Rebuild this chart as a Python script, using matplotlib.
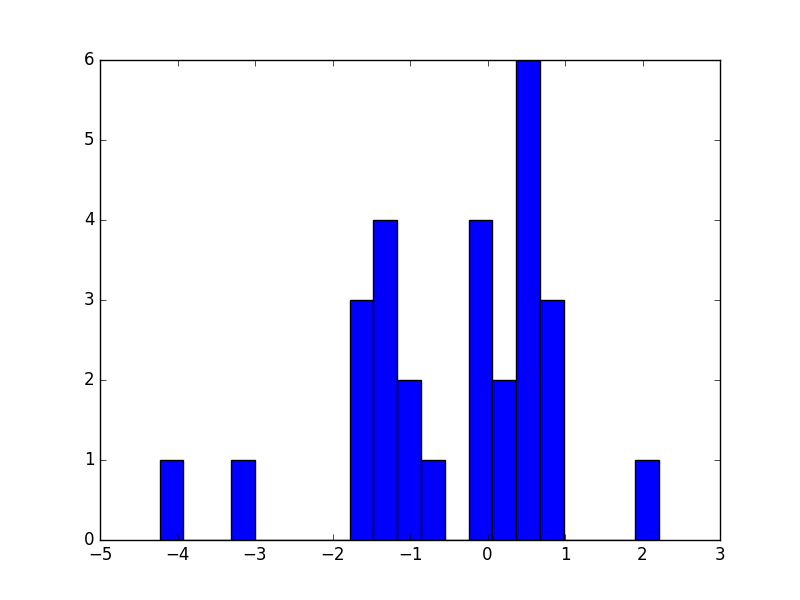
import matplotlib
matplotlib.use('Agg')
import matplotlib.pyplot as plt

# bin edges (21 bins) and counts
bin_edges = [-4.230, -3.923, -3.617, -3.310, -3.004, -2.697, -2.390, -2.084,
             -1.777, -1.471, -1.164, -0.857, -0.551, -0.244, 0.062, 0.369,
             0.676, 0.982, 1.289, 1.595, 1.902, 2.209]
counts = [1, 0, 0, 1, 0, 0, 0, 0, 3, 4, 2, 1, 0, 4, 2, 6, 3, 0, 0, 0, 1]

plt.style.use('classic')
fig, ax = plt.subplots(figsize=(8, 6), dpi=100)

ax.hist(bin_edges[:-1], bins=bin_edges, weights=counts, color='b', edgecolor='k')
ax.set_xlim(-5, 3)
ax.set_ylim(0, 6)

fig.savefig('out.png', dpi=100)
